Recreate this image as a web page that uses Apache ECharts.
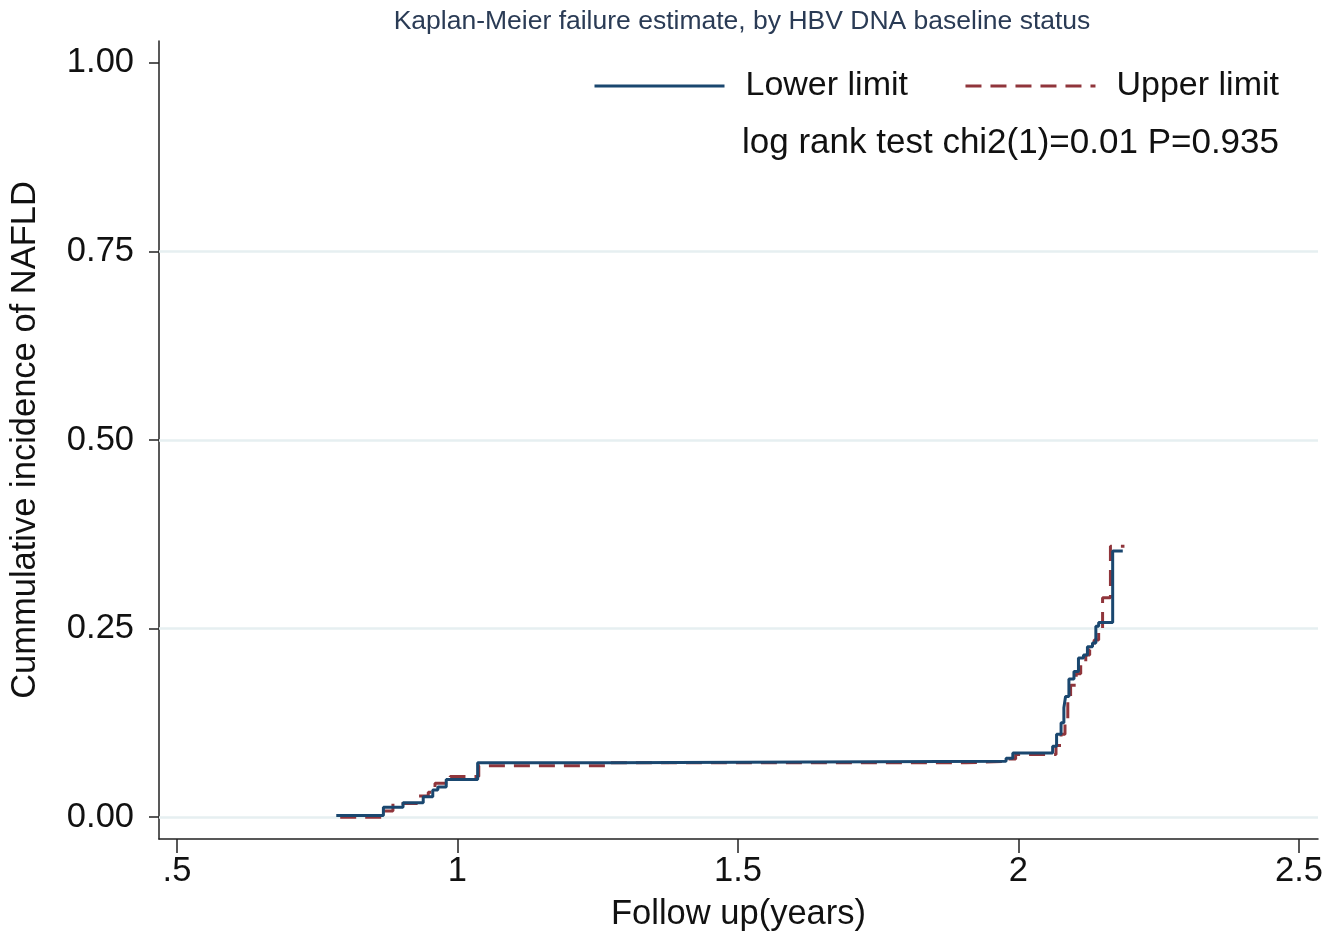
<!DOCTYPE html>
<html>
<head>
<meta charset="utf-8">
<script src="https://cdn.jsdelivr.net/npm/echarts@6/dist/echarts.min.js"></script>
<style>
html,body{margin:0;padding:0;background:#fff;}
#chart{width:1344px;height:940px;}
</style>
</head>
<body>
<div id="chart"></div>
<script>
// Follow-up time (years) and cumulative incidence, Lower limit group
const lowerTimes = [0.784, 0.868, 0.903, 0.939, 0.956, 0.965, 0.980, 1.036, 1.273, 1.978, 1.990, 2.061, 2.068, 2.076, 2.081, 2.084, 2.090, 2.099, 2.107, 2.116, 2.123, 2.132, 2.138, 2.143, 2.168, 2.186];
const lowerValues = [0.002, 0.013, 0.019, 0.027, 0.036, 0.040, 0.050, 0.072, 0.074, 0.078, 0.085, 0.094, 0.110, 0.125, 0.145, 0.160, 0.183, 0.193, 0.211, 0.215, 0.226, 0.231, 0.253, 0.258, 0.353, 0.353];
// Upper limit group
const upperTimes = [0.791, 0.869, 0.885, 0.930, 0.948, 0.960, 0.987, 1.038, 1.273, 1.907, 1.974, 1.995, 2.067, 2.076, 2.083, 2.088, 2.093, 2.103, 2.111, 2.120, 2.127, 2.135, 2.143, 2.150, 2.164, 2.189];
const upperValues = [0.000, 0.008, 0.018, 0.028, 0.033, 0.045, 0.054, 0.068, 0.072, 0.074, 0.077, 0.083, 0.095, 0.110, 0.130, 0.155, 0.175, 0.190, 0.205, 0.215, 0.222, 0.235, 0.245, 0.291, 0.359, 0.359];

const xTicks = [0.5, 1, 1.5, 2, 2.5];
const xTickLabels = ['.5', '1', '1.5', '2', '2.5'];
const yTicks = [0, 0.25, 0.5, 0.75, 1];
const yTickLabels = ['0.00', '0.25', '0.50', '0.75', '1.00'];
const gridValues = [0, 0.25, 0.5, 0.75];

const seriesNames = ['Lower limit', 'Upper limit'];
const titleText = 'Kaplan-Meier failure estimate, by HBV DNA baseline status';
const noteText = 'log rank test chi2(1)=0.01 P=0.935';
const xName = 'Follow up(years)';
const yName = 'Cummulative incidence of NAFLD';

const FONT = '"Liberation Sans", Arial, sans-serif';
const FS = 34.5;
const chart = echarts.init(document.getElementById('chart'));

const zip = (a, b) => a.map((t, i) => [t, b[i]]);

chart.setOption({
  backgroundColor: '#ffffff',
  animation: false,
  title: {
    text: titleText,
    left: 737, top: 3, textAlign: 'center',
    textStyle: { fontFamily: FONT, fontSize: 26.5, fontWeight: 'normal', color: '#2a3b55' }
  },
  legend: {
    data: seriesNames,
    left: 588, top: 64,
    itemWidth: 130, itemHeight: 3,
    itemGap: 56,
    itemStyle: { opacity: 0 },
    lineStyle: { width: 3 },
    textStyle: { fontFamily: FONT, fontSize: 34, color: '#111', padding: [0, 0, 0, 16] }
  },
  graphic: [{
    type: 'text', left: 742, top: 126,
    style: { text: noteText, font: '35px ' + FONT, fill: '#111' }
  }],
  grid: { left: 155, right: 26, top: 41, bottom: 101, containLabel: false },
  xAxis: {
    type: 'value', min: 0.468, max: 2.534,
    name: xName, nameLocation: 'middle', nameGap: 58,
    nameTextStyle: { fontFamily: FONT, fontSize: FS, color: '#111' },
    axisLine: { onZero: false, lineStyle: { color: '#222', width: 1.5 } },
    axisTick: { customValues: xTicks, length: 14, lineStyle: { color: '#222', width: 1.5 } },
    axisLabel: {
      customValues: xTicks, margin: 15,
      formatter: v => xTickLabels[xTicks.indexOf(v)] !== undefined ? xTickLabels[xTicks.indexOf(v)] : '',
      fontFamily: FONT, fontSize: FS, color: '#111'
    },
    splitLine: { show: false }
  },
  yAxis: {
    type: 'value', min: -0.029, max: 1.029,
    name: yName, nameLocation: 'middle', nameGap: 116, nameRotate: 90,
    nameTextStyle: { fontFamily: FONT, fontSize: FS, color: '#111' },
    axisLine: { onZero: false, lineStyle: { color: '#222', width: 1.5 } },
    axisTick: { customValues: yTicks, length: 10, lineStyle: { color: '#222', width: 1.5 } },
    axisLabel: {
      customValues: yTicks, margin: 25,
      formatter: v => yTickLabels[yTicks.indexOf(v)] !== undefined ? yTickLabels[yTicks.indexOf(v)] : '',
      fontFamily: FONT, fontSize: FS, color: '#111'
    },
    splitLine: { show: false }
  },
  series: [
    {
      name: seriesNames[0], type: 'line', step: 'end',
      data: zip(lowerTimes, lowerValues),
      showSymbol: false, symbol: 'none',
      lineStyle: { color: '#1a476f', width: 3 },
      itemStyle: { color: '#1a476f' },
      z: 3,
      markLine: {
        silent: true, symbol: 'none', label: { show: false },
        lineStyle: { color: '#e6eff1', width: 2.5, type: 'solid' },
        data: gridValues.map(v => ({ yAxis: v })),
        z: 1
      }
    },
    {
      name: seriesNames[1], type: 'line', step: 'end',
      data: zip(upperTimes, upperValues),
      showSymbol: false, symbol: 'none',
      lineStyle: { color: '#90353b', width: 3, type: [16, 9] },
      itemStyle: { color: '#90353b' },
      z: 2
    }
  ]
});
</script>
</body>
</html>
